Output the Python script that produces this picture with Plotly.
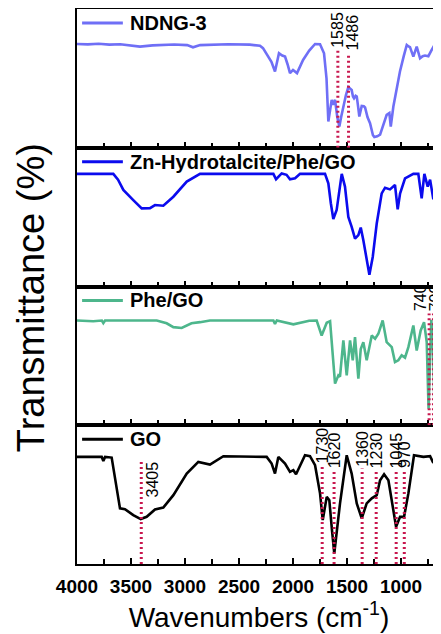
import plotly.graph_objects as go
from plotly.subplots import make_subplots

# ---------------- data (wavenumber cm-1, relative transmittance per panel) ----------------
ndng_wn = [4000, 3900, 3800, 3700, 3600, 3417, 3300, 3100, 2980, 2926, 2860, 2600, 2400, 2306, 2278,
           2200, 2167, 2130, 2100, 2074, 2050, 2028, 2000, 1963, 1907, 1850, 1796, 1750, 1713, 1690,
           1673, 1655, 1642, 1630, 1611, 1590, 1571, 1555, 1534, 1510, 1488, 1470, 1457, 1445, 1435,
           1420, 1410, 1398, 1386, 1364, 1345, 1333, 1310, 1287, 1260, 1247, 1220, 1194, 1160, 1133,
           1108, 1095, 1071, 1040, 1010, 975, 947, 930, 917, 886, 855, 824, 800, 778, 747, 720, 685,
           664, 645, 630]
ndng_t = [74.8, 74.5, 75.0, 74.3, 74.6, 72.9, 73.8, 74.4, 74.0, 72.4, 74.0, 74.6, 74.3, 73.5, 71.8,
          62.0, 55.0, 68.1, 66.5, 65.7, 60.0, 53.8, 56.1, 53.8, 63.3, 70.0, 74.8, 74.6, 68.1, 50.0,
          18.9, 30.0, 34.5, 31.0, 34.5, 22.0, 15.3, 22.0, 29.7, 38.0, 43.7, 42.5, 41.7, 37.0, 35.7,
          37.5, 37.0, 30.0, 22.5, 30.2, 30.0, 29.0, 22.0, 17.7, 9.0, 7.7, 8.2, 9.4, 18.0, 23.7,
          25.0, 15.3, 29.7, 42.0, 55.0, 66.0, 74.1, 73.0, 72.5, 65.7, 72.9, 64.5, 66.0, 66.5, 66.0, 70.0, 74.8,
          59.7, 72.9, 73.8]

zn_wn = [4000, 3800, 3664, 3620, 3571, 3479, 3401, 3324, 3278, 3201, 3108, 2984, 2861, 2500, 2182,
         2157, 2105, 2060, 2028, 1981, 1935, 1704, 1673, 1650, 1627, 1596, 1570, 1549, 1519, 1500,
         1488, 1457, 1426, 1395, 1373, 1349, 1318, 1293, 1262, 1225, 1179, 1148, 1102, 1056, 1031,
         1009, 963, 886, 840, 809, 784, 753, 731, 701, 670, 630]
zn_t = [81.2, 81.0, 81.2, 77.0, 69.6, 62.3, 56.3, 56.5, 58.7, 58.2, 64.7, 75.6, 81.2, 81.2, 81.2,
        77.3, 81.5, 80.5, 77.3, 78.0, 81.2, 81.2, 74.4, 60.0, 48.6, 55.1, 72.0, 81.2, 72.0, 58.0,
        50.2, 43.0, 34.5, 37.0, 42.5, 33.3, 17.6, 8.5, 21.3, 45.4, 67.1, 71.2, 70.0, 73.2, 55.6,
        67.0, 78.0, 81.2, 81.2, 63.5, 81.2, 72.0, 77.0, 62.8, 75.0, 75.0]

phe_wn = [4000, 3850, 3770, 3756, 3740, 3500, 3262, 3170, 3108, 3031, 2940, 2861, 2769, 2400, 2182,
          2167, 2150, 1997, 1850, 1781, 1760, 1735, 1688, 1657, 1611, 1580, 1565, 1534, 1503, 1472,
          1447, 1426, 1395, 1373, 1349, 1318, 1271, 1240, 1210, 1170, 1133, 1086, 1056, 1025, 994,
          963, 932, 886, 855, 818, 787, 762, 745, 720, 705, 688, 660, 640, 630]
phe_t = [75.5, 75.0, 75.5, 73.6, 75.5, 75.3, 75.5, 73.5, 70.7, 70.1, 73.5, 74.3, 75.5, 75.5, 75.5,
         73.1, 75.5, 72.7, 75.3, 75.5, 70.0, 64.7, 73.9, 75.0, 30.0, 36.0, 35.0, 61.2, 36.0, 61.2,
         46.8, 63.5, 33.6, 55.0, 59.9, 46.8, 64.7, 62.3, 65.9, 75.5, 59.9, 56.3, 45.6, 46.8, 50.4,
         48.7, 56.3, 71.9, 53.9, 68.3, 74.3, 59.9, 12.0, 76.0, 60.0, 5.0, 40.0, 60.0, 64.0]

go_wn = [4000, 3800, 3771, 3756, 3740, 3679, 3632, 3602, 3556, 3479, 3410, 3355, 3278, 3201, 3108,
         2984, 2877, 2769, 2645, 2400, 2244, 2198, 2167, 2136, 2074, 2028, 1997, 1972, 1889, 1843,
         1796, 1750, 1725, 1688, 1664, 1640, 1618, 1565, 1503, 1457, 1410, 1364, 1318, 1271, 1225,
         1194, 1157, 1117, 1086, 1046, 1009, 972, 932, 880, 793, 731, 701, 670, 645, 630]
go_t = [77.2, 77.0, 77.2, 74.3, 77.2, 76.7, 55.6, 40.1, 39.5, 35.3, 32.4, 34.0, 39.3, 40.7, 49.6,
        65.2, 73.6, 71.7, 77.7, 77.5, 77.2, 72.4, 65.2, 77.2, 72.4, 66.4, 67.6, 64.7, 78.4, 77.7,
        71.2, 50.9, 31.7, 48.4, 46.0, 25.0, 7.7, 43.7, 78.4, 65.2, 43.7, 32.9, 43.7, 47.3, 49.6,
        60.4, 64.7, 60.4, 46.0, 26.9, 34.0, 34.0, 50.9, 78.4, 77.2, 77.7, 72.9, 83.2, 77.2, 76.0]

series_names = ["NDNG-3", "Zn-Hydrotalcite/Phe/GO", "Phe/GO", "GO"]
series_colors = ["#6F6FF6", "#0B0BEE", "#4DB68C", "#000000"]

# marked peaks per panel: (wavenumber, top of dotted line)
ndng_peaks = [1585, 1486]
ndng_peak_tops = [70.5, 68.3]
phe_peaks = [740, 700]
phe_peak_tops = [80.6, 80.6]
go_peaks = [3405, 1730, 1620, 1360, 1230, 1045, 970]
go_peak_tops = [75.5, 71.2, 67.6, 68.8, 67.6, 67.6, 67.6]

xticks = [4000, 3500, 3000, 2500, 2000, 1500, 1000]
x_range = [4000, 630]

# ---------------- figure ----------------
FONT = "Arial, 'Liberation Sans', sans-serif"
PEAK_COLOR = "#C8174E"

fig = make_subplots(rows=4, cols=1, shared_xaxes=True, vertical_spacing=0)

data = [(ndng_wn, ndng_t), (zn_wn, zn_t), (phe_wn, phe_t), (go_wn, go_t)]
for i, ((wn, t), name, col) in enumerate(zip(data, series_names, series_colors)):
    fig.add_trace(go.Scatter(x=wn, y=t, mode="lines", name=name,
                             line=dict(color=col, width=2.6), showlegend=False),
                  row=i + 1, col=1)
    # legend-like label
    yref = "y domain" if i == 0 else f"y{i+1} domain"
    xref = "x domain" if i == 0 else f"x{i+1} domain"
    fig.add_shape(type="line", xref=xref, yref=yref, x0=0.014, x1=0.126, y0=0.90, y1=0.90,
                  line=dict(color=col, width=3))
    fig.add_annotation(xref=xref, yref=yref, x=0.14, y=0.90, text=f"<b>{name}</b>",
                       showarrow=False, xanchor="left", yanchor="middle",
                       font=dict(family=FONT, size=20, color="black"))


def add_peaks(row, peaks, tops, label_shift=None, label_anchor=None):
    for k, (p, top) in enumerate(zip(peaks, tops)):
        fig.add_shape(type="line", x0=p, x1=p, y0=0, y1=top, row=row, col=1,
                      line=dict(color=PEAK_COLOR, width=3, dash="2px,3px"))
        xs = label_shift[k] if label_shift else 0
        ya = label_anchor[k] if label_anchor else "bottom"
        fig.add_annotation(x=p, y=top, text=str(p), textangle=-90, showarrow=False,
                           xanchor="center", yanchor=ya, xshift=xs, yshift=0,
                           font=dict(family=FONT, size=16, color="black"), row=row, col=1)


add_peaks(1, ndng_peaks, ndng_peak_tops, label_shift=[0, 4])
add_peaks(3, phe_peaks, phe_peak_tops, label_shift=[-8, 2])
add_peaks(4, go_peaks, go_peak_tops, label_shift=[11, 0, 0, 0, 0, 0, 0],
          label_anchor=["top", "bottom", "bottom", "bottom", "bottom", "bottom", "bottom"])

for r in range(1, 5):
    fig.update_xaxes(range=x_range, tickvals=xticks, showline=True, linecolor="black", linewidth=2,
                     mirror=True, ticks="inside", ticklen=6, tickwidth=2, tickcolor="black",
                     minor=dict(dtick=250, tick0=0, ticks="inside", ticklen=5, tickwidth=2,
                                tickcolor="black"),
                     showgrid=False, zeroline=False,
                     tickfont=dict(family=FONT, size=19, color="black", weight="bold"),
                     row=r, col=1)
    fig.update_yaxes(range=[0, 100], showline=True, linecolor="black", linewidth=2, mirror=False,
                     showticklabels=False, ticks="", showgrid=False, zeroline=False, row=r, col=1)

fig.update_xaxes(ticklabelstandoff=4,
                 title=dict(text="Wavenumbers (cm<sup>-1</sup>)", standoff=6,
                            font=dict(family=FONT, size=28, color="black")),
                 row=4, col=1)

fig.add_annotation(xref="paper", yref="paper", x=0, xshift=-46, y=0.479, text="Transmittance (%)",
                   textangle=-90, showarrow=False, xanchor="center", yanchor="middle",
                   font=dict(family=FONT, size=38, color="black"))

# page body has an 8px default margin: size the figure to fill the rest of the 441x634 window
fig.update_layout(width=433, height=626, margin=dict(l=69, r=0, t=1, b=70),
                  paper_bgcolor="white", plot_bgcolor="white", showlegend=False,
                  font=dict(family=FONT, color="black"))

fig.write_html("out.html")
